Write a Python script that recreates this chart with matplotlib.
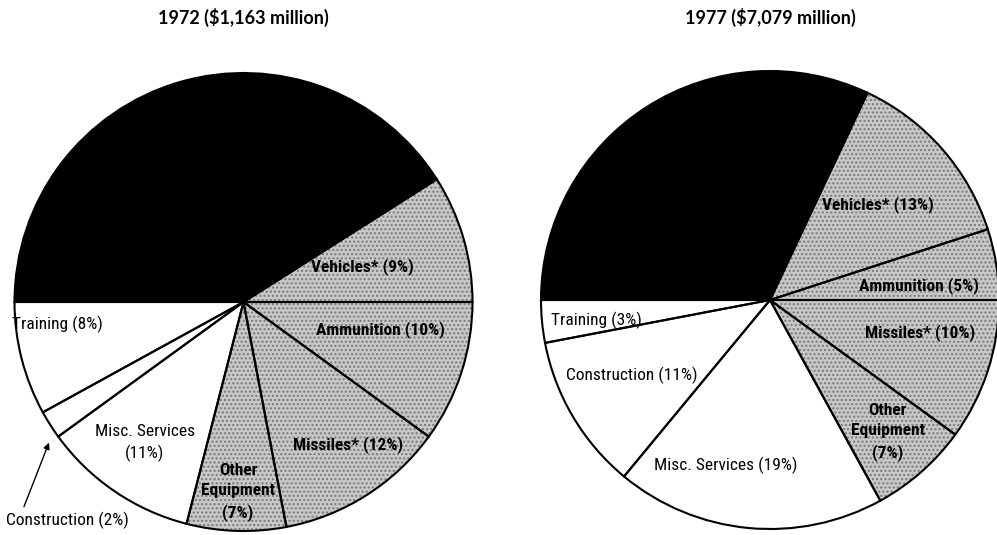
import matplotlib
matplotlib.use("Agg")
import matplotlib.pyplot as plt
from matplotlib import font_manager

# ---- data ----
categories = ["Aircraft", "Vehicles", "Ammunition", "Missiles", "Other Equipment",
              "Misc. Services", "Construction", "Training"]
shares_1972 = [41, 9, 10, 12, 7, 11, 2, 8]
shares_1977 = [32, 13, 5, 10, 7, 19, 11, 3]
titles = ["1972 ($1,163 million)", "1977 ($7,079 million)"]
labels_1972 = ["", "Vehicles* (9%)", "Ammunition (10%)", "Missiles* (12%)",
               "Other\nEquipment\n(7%)", "Misc. Services\n(11%)", "Construction (2%)",
               "Training (8%)"]
labels_1977 = ["", "Vehicles* (13%)", "Ammunition (5%)", "Missiles* (10%)",
               "Other\nEquipment\n(7%)", "Misc. Services (19%)", "Construction (11%)",
               "Training (3%)"]
fill_kind = ["black", "stipple", "stipple", "stipple", "stipple", "white", "white", "white"]

# ---- style ----
names = {f.name for f in font_manager.fontManager.ttflist}
if "Roboto Condensed" in names:
    label_font = ["Roboto Condensed", "DejaVu Sans"]
elif "Liberation Sans Narrow" in names:
    label_font = ["Liberation Sans Narrow", "DejaVu Sans"]
else:
    label_font = ["Liberation Sans", "DejaVu Sans"]
title_font = ["Lato", "DejaVu Sans"]

W, H = 997, 535
fig = plt.figure(figsize=(W / 100, H / 100), dpi=100)

R = 229
centers = [(243.5, 302), (770, 300)]

# label positions in pie-radius units (relative to the centre)
pos_1972 = [None, (0.518, 0.157), (0.596, -0.122), (0.456, -0.624), (-0.024, -0.830),
            (-0.430, -0.616), (-0.771, -0.952), (-0.814, -0.096)]
pos_1977 = [None, (0.472, 0.415), (0.651, 0.061), (0.655, -0.144), (0.515, -0.576),
            (-0.192, -0.721), (-0.603, -0.328), (-0.760, -0.087)]

face = {"black": "black", "stipple": "#c8c8c8", "white": "white"}

for (cx, cy), shares, labels, pos, title in zip(
        centers, [shares_1972, shares_1977], [labels_1972, labels_1977],
        [pos_1972, pos_1977], titles):
    ax = fig.add_axes([(cx - R) / W, (H - cy - R) / H, 2 * R / W, 2 * R / H])
    wedges, _ = ax.pie(shares, startangle=180, counterclock=False, radius=1,
                       colors=[face[k] for k in fill_kind],
                       wedgeprops=dict(linewidth=0, edgecolor="#777777"))
    for w, k in zip(wedges, fill_kind):
        w.set_clip_on(False)
        if k == "stipple":
            w.set_hatch("....")
    outl, _ = ax.pie(shares, startangle=180, counterclock=False, radius=1,
                     colors=["none"] * len(shares),
                     wedgeprops=dict(linewidth=1.5, edgecolor="black", fill=False))
    for w in outl:
        w.set_clip_on(False)
    ax.set_xlim(-1, 1)
    ax.set_ylim(-1, 1)
    ax.set_aspect("equal")
    ax.axis("off")
    for lab, p, k in zip(labels, pos, fill_kind):
        if not lab:
            continue
        ax.text(p[0], p[1], lab, ha="center", va="center", fontsize=12.5,
                family=label_font, color="black", linespacing=1.45,
                fontweight="bold" if k == "stipple" else "normal", clip_on=False)
    fig.text(cx / W, 1 - 17 / H, title, ha="center", va="center", fontsize=13,
             family=title_font, fontweight="bold")

# arrow for the small Construction slice of 1972
ax0 = fig.axes[0]
ax0.annotate("", xy=(-0.845, -0.603), xytext=(-0.963, -0.905),
             arrowprops=dict(arrowstyle="-|>", color="black", lw=1.0,
                             mutation_scale=9), annotation_clip=False)

fig.savefig("out.png", dpi=100)
